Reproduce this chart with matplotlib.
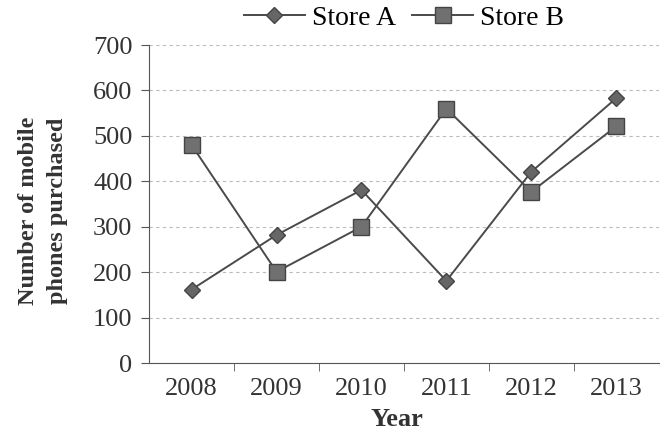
import matplotlib.pyplot as plt
import numpy as np

years = ['2008', '2009', '2010', '2011', '2012', '2013']
store_a = [162, 282, 381, 181, 421, 583]
store_b = [480, 201, 300, 560, 377, 521]

plt.rcParams['font.family'] = ['Liberation Serif', 'DejaVu Serif']

fig = plt.figure(figsize=(6.6, 4.37), dpi=100)
ax = fig.add_axes([0.226, 0.169, 0.772, 0.728])

x = np.arange(len(years))
ax.plot(x, store_a, color='#4a4a4a', lw=1.4, marker='D', ms=8, mfc='#666666', mec='#444444', label='Store A')
ax.plot(x, store_b, color='#4a4a4a', lw=1.4, marker='s', ms=12, mfc='#707070', mec='#444444', label='Store B')

ax.set_xlim(-0.5, 5.5)
ax.set_ylim(0, 700)
ax.set_yticks(range(0, 701, 100))
ax.set_xticks(x)
ax.set_xticklabels(years)
# category boundaries get the tick marks, like a spreadsheet chart
ax.set_xticks(np.arange(0.5, 5.5, 1), minor=True)
ax.tick_params(axis='x', which='major', length=0, pad=11, labelsize=19, colors='#333333')
ax.tick_params(axis='x', which='minor', length=6, color='#555555')
ax.tick_params(axis='y', length=6, pad=6, labelsize=19, colors='#333333', color='#555555')

ax.grid(axis='y', color='#bbbbbb', ls=(0, (3, 3)), lw=0.8)
for s in ['top', 'right']:
    ax.spines[s].set_visible(False)
ax.spines['left'].set_color('#555555')
ax.spines['bottom'].set_color('#555555')

ax.set_xlabel('Year', fontsize=19, fontweight='bold', color='#333333')
ax.xaxis.set_label_coords(0.486, -0.142)
ax.set_ylabel('Number of mobile\nphones purchased', fontsize=17.5, fontweight='bold', color='#333333',
              linespacing=1.45)
ax.yaxis.set_label_coords(-0.16, 0.48)

ax.legend(loc='center', bbox_to_anchor=(0.5, 1.085), ncol=2, frameon=False, fontsize=20,
          handlelength=2.2, columnspacing=0.6, handletextpad=0.25, borderaxespad=0)

fig.savefig('out.png', dpi=100)
